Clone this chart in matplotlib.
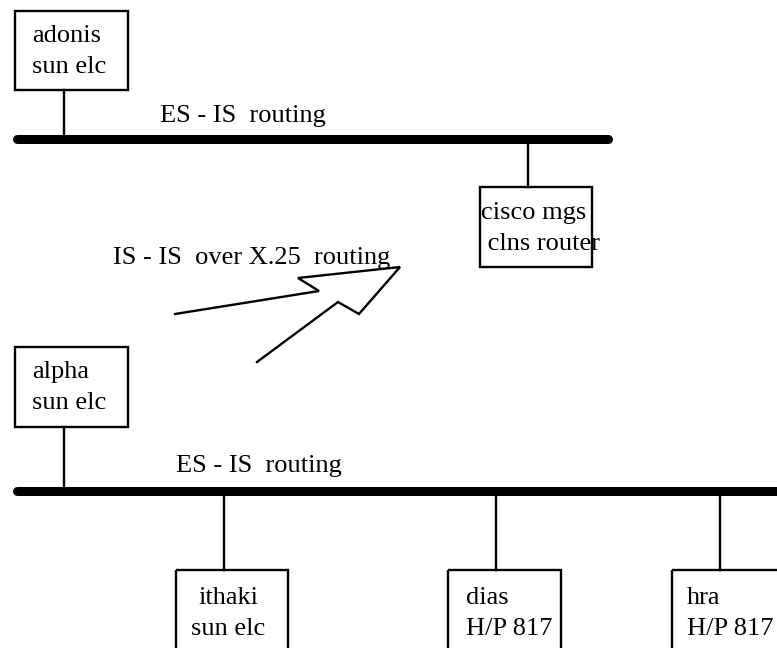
import matplotlib
matplotlib.use("Agg")
import matplotlib.pyplot as plt
from matplotlib.patches import Rectangle

# node labels (two text lines per box)
top_nodes = ["adonis\nsun elc", "cisco mgs\n clns router"]
bottom_nodes = ["alpha\nsun elc", "ithaki\nsun elc", "dias\nH/P 817", "hra\nH/P 817"]
bus_label = "ES - IS  routing"
wan_label = "IS - IS  over X.25  routing"

# layout in pixel units (x0, y0, x1, y1) and tap x position
top_boxes = [(15, 11, 128, 90, 64), (480, 187, 592, 267, 528)]
bottom_boxes = [(15, 347, 128, 427, 64), (176, 570, 288, 700, 224),
                (448, 570, 561, 700, 496), (672, 570, 785, 700, 720)]
top_bus = (17, 608, 139)
bottom_bus = (17, 800, 491)
arrow_x = [175, 319, 298, 400, 359, 338, 257]
arrow_y = [314, 291, 278, 267, 314, 302, 362]

plt.rcParams['font.family'] = ['Liberation Serif', 'DejaVu Serif']
FS = 19

fig = plt.figure(figsize=(7.77, 6.48), dpi=100)
ax = fig.add_axes([0, 0, 1, 1])
ax.set_xlim(0, 777)
ax.set_ylim(648, 0)
ax.axis('off')


def draw_bus(bus):
    x0, x1, y = bus
    ax.plot([x0, x1], [y, y], color='black', lw=6.5, solid_capstyle='round')


def draw_box(box, bus_y):
    x0, y0, x1, y1, tx = box
    ax.add_patch(Rectangle((x0, y0), x1 - x0, y1 - y0, fill=False,
                           edgecolor='black', lw=1.7))
    if y1 < bus_y:
        ax.plot([tx, tx], [y1, bus_y], color='black', lw=1.7)
    else:
        ax.plot([tx, tx], [bus_y, y0], color='black', lw=1.7)


draw_bus(top_bus)
draw_bus(bottom_bus)
for b in top_boxes:
    draw_box(b, top_bus[2])
for b in bottom_boxes:
    draw_box(b, bottom_bus[2])

# texts
def two_lines(label, x, y, ha='left'):
    l1, l2 = label.split("\n")
    ax.text(x, y, l1, fontsize=FS, ha=ha, va='center')
    ax.text(x, y + 31, l2, fontsize=FS, ha=ha, va='center')

two_lines(top_nodes[0], 32, 36)
two_lines(top_nodes[1], 481, 213)
two_lines(bottom_nodes[0], 32, 372)
two_lines(bottom_nodes[1], 228, 598, ha='center')
two_lines(bottom_nodes[2], 466, 598)
two_lines(bottom_nodes[3], 687, 598)

ax.text(160, 116, bus_label, fontsize=FS, ha='left', va='center')
ax.text(176, 466, bus_label, fontsize=FS, ha='left', va='center')
ax.text(113, 258, wan_label, fontsize=FS, ha='left', va='center')

ax.plot(arrow_x, arrow_y, color='black', lw=1.7, solid_joinstyle='miter')

fig.savefig('out.png', dpi=100)
